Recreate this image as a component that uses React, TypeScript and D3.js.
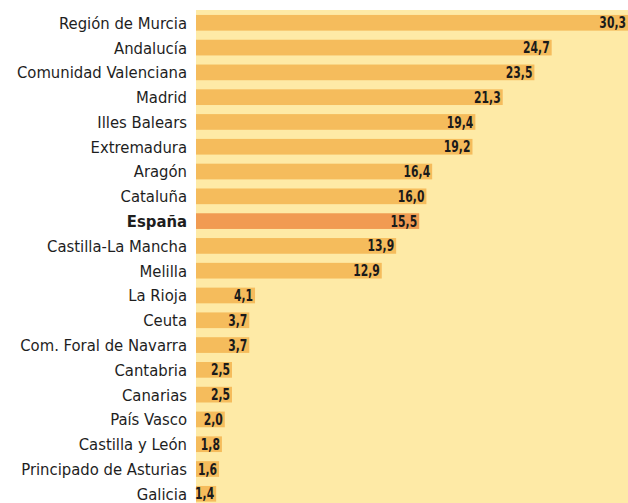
import React from 'react';
import * as d3 from 'd3';

const regions = [
  'Región de Murcia', 'Andalucía', 'Comunidad Valenciana', 'Madrid', 'Illes Balears',
  'Extremadura', 'Aragón', 'Cataluña', 'España', 'Castilla-La Mancha', 'Melilla',
  'La Rioja', 'Ceuta', 'Com. Foral de Navarra', 'Cantabria', 'Canarias', 'País Vasco',
  'Castilla y León', 'Principado de Asturias', 'Galicia'
];
const values = [30.3, 24.7, 23.5, 21.3, 19.4, 19.2, 16.4, 16.0, 15.5, 13.9, 12.9, 4.1, 3.7, 3.7, 2.5, 2.5, 2.0, 1.8, 1.6, 1.4];
const highlight = 'España';

const width = 628;
const height = 503;
const panelLeft = 196;
const panelTop = 10;
const font = '"Liberation Sans Narrow", "DejaVu Sans Condensed", "DejaVu Sans", sans-serif';

export default function App() {
  const x = d3.scaleLinear().domain([0, 30]).range([panelLeft, 628]);
  const y = d3.scaleBand<string>()
    .domain(regions)
    .range([panelTop, 506.6])
    .paddingInner(0.367)
    .paddingOuter(0.2);

  const fmt = (v: number) => v.toFixed(1).replace('.', ',');

  return (
    <svg width={width} height={height} style={{ position: 'absolute', left: 0, top: 0, background: '#fff' }}>
      <rect x={panelLeft} y={panelTop} width={width - panelLeft} height={height - panelTop} fill="#feeaa6" />
      {regions.map((r, i) => {
        const yy = y(r) as number;
        const bw = y.bandwidth();
        const hi = r === highlight;
        const vx = Math.min(x(values[i]), width) - 2;
        return (
          <g key={r}>
            <rect x={x(0)} y={yy} width={x(values[i]) - x(0)} height={bw} fill={hi ? '#f19b52' : '#f5bc5c'} />
            <text x={187} y={yy + bw / 2} dy="0.36em" textAnchor="end"
              fontFamily={font} fontStretch="condensed" fontSize={16.5}
              fontWeight={hi ? 'bold' : 'normal'} fill="#1e1e1e">{r}</text>
            <text transform={`translate(${vx},${yy + bw / 2}) scale(0.8,1)`} dy="0.37em" textAnchor="end"
              fontFamily={font} fontStretch="condensed" fontSize={15} fontWeight="bold" fill="#1a1a1a">
              {fmt(values[i])}
            </text>
          </g>
        );
      })}
    </svg>
  );
}
